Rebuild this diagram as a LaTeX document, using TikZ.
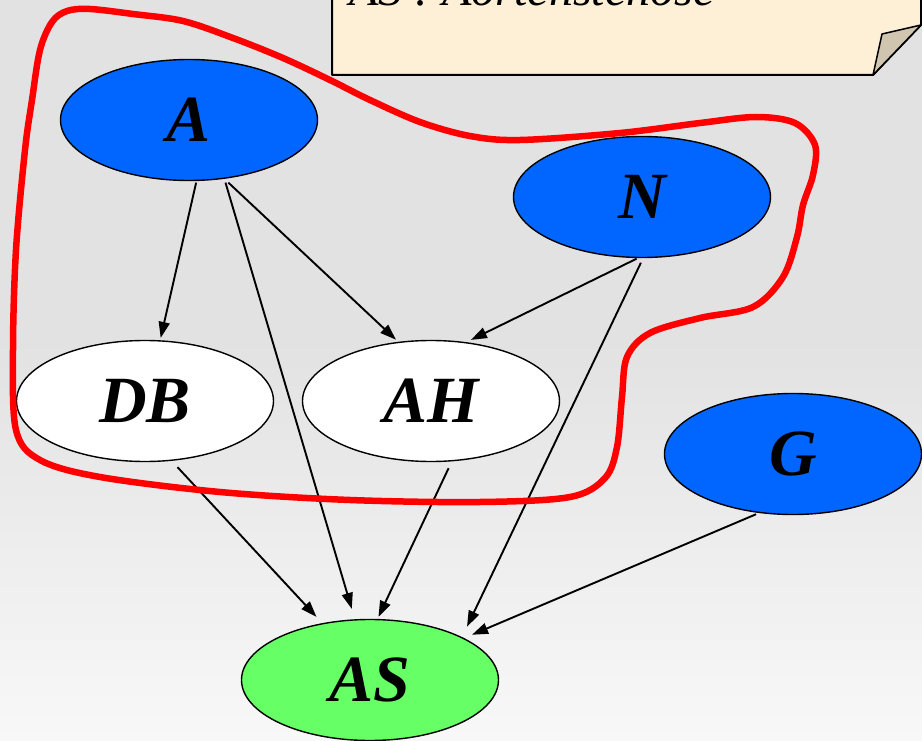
\documentclass[tikz,border=0pt]{standalone}
\usepackage{fontspec}
\setmainfont{Liberation Serif}
\usetikzlibrary{shapes.geometric,arrows.meta}

\definecolor{bgtop}{RGB}{226,226,226}
\definecolor{bgbot}{RGB}{248,248,248}
\definecolor{varblue}{RGB}{0,102,255}
\definecolor{targetgreen}{RGB}{102,255,102}
\definecolor{notefill}{RGB}{253,240,214}
\definecolor{foldfill}{RGB}{208,198,175}
\definecolor{groupred}{RGB}{255,0,0}

\begin{document}
\begin{tikzpicture}[x=1pt,y=-1pt,
  var/.style={ellipse, draw=black, line width=1.4pt, minimum width=257pt,
    minimum height=121pt, inner sep=0pt,
    font=\fontsize{66}{66}\selectfont\bfseries\itshape},
  observed/.style={var, fill=varblue},
  latent/.style={var, fill=white},
  target/.style={var, fill=targetgreen},
  dep/.style={line width=1.9pt, -{Triangle[length=16pt,width=11pt]}},
  notetext/.style={anchor=base west, inner sep=0pt,
    font=\fontsize{48}{48}\selectfont\itshape},
]
\useasboundingbox (0,0) rectangle (922,741);
\clip (0,0) rectangle (922,741);

% background: flat grey, lightening towards the bottom
\fill[bgtop] (0,0) rectangle (922,741);
\shade[top color=bgtop, bottom color=bgbot] (0,340) rectangle (922,741);

% sticky note with folded corner
\fill[notefill] (332,-5) -- (332,75) -- (873,75) -- (921,25) -- (921,-5) -- cycle;
\draw[line width=2pt, line join=round] (332,-5) -- (332,75) -- (873,75) -- (921,25) -- (921,-5);
\filldraw[fill=foldfill, line width=1.5pt, line join=round] (873,75) -- (882,34) -- (921,25) -- cycle;
\node[notetext] (note) at (349,6) {AS : Aortenstenose};

% variables
\node[observed] (A)  at (189,120) {A};
\node[observed] (N)  at (642,197) {N};
\node[latent]   (DB) at (145,401) {DB};
\node[latent]   (AH) at (431,401) {AH};
\node[observed] (G)  at (793,454) {G};
\node[target]   (AS) at (370,680) {AS};

% dependencies
\draw[dep, shorten <=1.6pt, shorten >=2.4pt]  (A.-83)    -- (DB.76.6);
\draw[dep, shorten <=3.9pt, shorten >=10.8pt] (A.-59)    -- (AS.104);
\draw[dep, shorten <=5.5pt, shorten >=3.1pt]  (A.-59)    -- (AH.119.8);
\draw[dep, shorten <=1.2pt, shorten >=5.1pt]  (N.-94.6)  -- (AH.59.6);
\draw[dep, shorten <=5pt,   shorten >=11.5pt] (N.-89.8)  -- (AS.25.3);
\draw[dep, shorten <=8.6pt, shorten >=8.5pt]  (DB.-66.3) -- (AS.130.2);
\draw[dep, shorten <=7.5pt, shorten >=2.3pt]  (AH.-71.4) -- (AS.83.3);
\draw[dep, shorten <=3.1pt, shorten >=8.6pt]  (G.-120.1) -- (AS.24.3);

% hand-drawn grouping outline
\draw[groupred, line width=6.5pt, line join=round] plot[smooth cycle, tension=0.55] coordinates {
  (67,11) (90,9) (133,14) (183,21) (233,38) (283,58) (330,80) (370,100)
  (420,122) (470,136) (520,140) (620,133) (700,123) (756,117) (795,123)
  (815,145) (813,175) (803,205) (797,237) (783,277) (753,307) (700,318)
  (650,333) (627,357) (622,397) (617,447) (605,478) (570,497) (480,502)
  (350,500) (220,492) (100,477) (40,460) (16,430) (13,350) (16,250)
  (25,150) (32,100) (40,50) (52,22)};
\end{tikzpicture}
\end{document}
